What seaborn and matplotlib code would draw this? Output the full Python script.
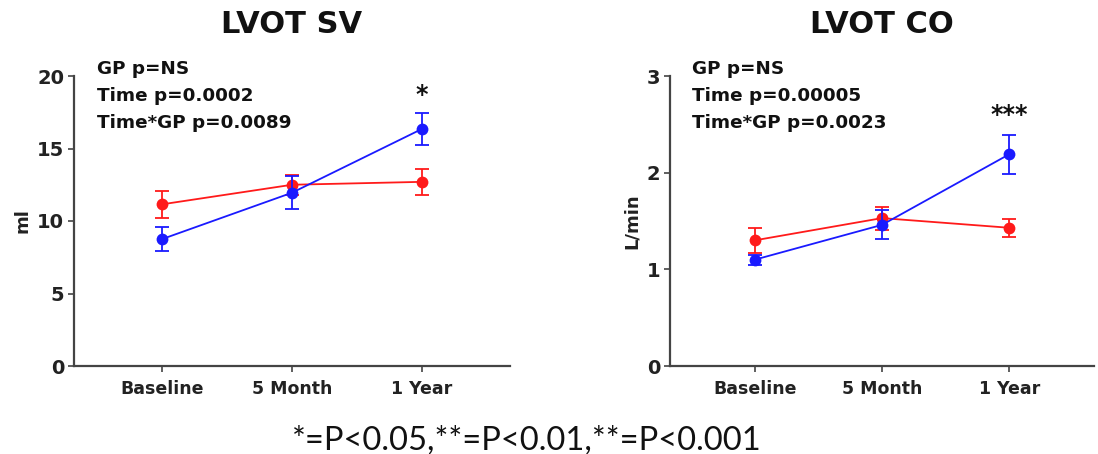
import numpy as np
import pandas as pd
import matplotlib
matplotlib.use("Agg")
import matplotlib.pyplot as plt
import seaborn as sns

# ---- data ----
timepoints = ["Baseline", "5 Month", "1 Year"]
groups = ["Red", "Blue"]

sv_red = [11.15, 12.5, 12.7]
sv_red_err = [0.95, 0.7, 0.9]
sv_blue = [8.75, 11.95, 16.35]
sv_blue_err = [0.85, 1.15, 1.12]

co_red = [1.30, 1.53, 1.43]
co_red_err = [0.13, 0.12, 0.095]
co_blue = [1.10, 1.46, 2.19]
co_blue_err = [0.05, 0.15, 0.20]

sv_yticks = [0, 5, 10, 15, 20]
co_yticks = [0, 1, 2, 3]

sv_stats = ["GP p=NS", "Time p=0.0002", "Time*GP p=0.0089"]
co_stats = ["GP p=NS", "Time p=0.00005", "Time*GP p=0.0023"]
footnote = "*=P<0.05,**=P<0.01,**=P<0.001"

RED = "#ff1a1a"
BLUE = "#1a1aff"

sns.set_theme(style="white")
plt.rcParams["font.family"] = ["DejaVu Sans"]

fig = plt.figure(figsize=(10.98, 4.54), dpi=100)
ax1 = fig.add_axes([74 / 1098, 88 / 454, 436 / 1098, 290 / 454])
ax2 = fig.add_axes([670 / 1098, 88 / 454, 424 / 1098, 290 / 454])

pos = np.arange(len(timepoints))


def panel(ax, red, red_err, blue, blue_err, yticks, ylabel, title, stats, star, star_y, xpad):
    for vals, errs, col in [(red, red_err, RED), (blue, blue_err, BLUE)]:
        df = pd.DataFrame({"x": pos, "y": vals})
        sns.lineplot(data=df, x="x", y="y", ax=ax, color=col, lw=1.3,
                     marker="o", markersize=8.5, markeredgewidth=0, legend=False)
        ax.errorbar(pos, vals, yerr=errs, fmt="none", ecolor=col, elinewidth=1.3,
                    capsize=5, capthick=1.3)
    ax.set_xlim(-xpad, len(timepoints) - 1 + xpad)
    ax.set_ylim(yticks[0], yticks[-1])
    ax.set_yticks(yticks)
    ax.set_xticks(pos)
    ax.set_xticklabels(timepoints, fontsize=12.5, fontweight="bold", color="#222222")
    for lab in ax.get_yticklabels():
        lab.set_fontsize(14)
        lab.set_fontweight("bold")
        lab.set_color("#222222")
    ax.set_xlabel("")
    ax.set_ylabel(ylabel, fontsize=13, fontweight="bold", color="#222222", labelpad=4)
    sns.despine(ax=ax)
    for s in ["left", "bottom"]:
        ax.spines[s].set_color("#444444")
        ax.spines[s].set_linewidth(1.6)
    ax.tick_params(axis="both", which="major", direction="out", length=4, width=1.2,
                   color="#444444", left=True, bottom=True, pad=3)
    ax.tick_params(axis="x", pad=6)
    ax.set_title(title, fontsize=22, fontweight="bold", pad=31, color="#111111")
    for i, t in enumerate(stats):
        ax.text(0.053, 1.025 - i * 0.093, t, transform=ax.transAxes,
                fontsize=13.2, fontweight="bold", color="#111111", va="center", ha="left")
    ax.text(pos[-1], star_y, star, ha="center", va="center", fontsize=17,
            fontweight="bold", color="#111111")


panel(ax1, sv_red, sv_red_err, sv_blue, sv_blue_err, sv_yticks, "ml", "LVOT SV",
      sv_stats, "*", 18.7, 0.677)
panel(ax2, co_red, co_red_err, co_blue, co_blue_err, co_yticks, "L/min", "LVOT CO",
      co_stats, "***", 2.6, 0.667)

fig.text(0.48, 0.03, footnote, ha="center", va="center", fontsize=23.5,
         family=["Lato", "DejaVu Sans"], color="#111111")

fig.savefig("out.png", dpi=100)
